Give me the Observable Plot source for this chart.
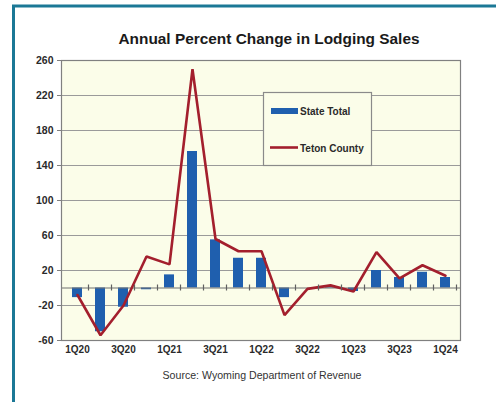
<!DOCTYPE html>
<html>
<head>
<meta charset="utf-8">
<script src="https://cdn.jsdelivr.net/npm/d3@7"></script>
<script src="https://cdn.jsdelivr.net/npm/@observablehq/plot@0.6"></script>
<style>
  html, body { margin: 0; padding: 0; background: #fff; }
  svg { display: block; }
</style>
</head>
<body>
<div id="chart"></div>
<script>
const quarters = ["1Q20","2Q20","3Q20","4Q20","1Q21","2Q21","3Q21","4Q21","1Q22","2Q22","3Q22","4Q22","1Q23","2Q23","3Q23","4Q23","1Q24"];
const stateTotal = [-11, -50, -22, -2, 15, 156, 55, 34, 34, -11, 0, 1, -4, 20, 12, 18, 12];
const tetonCounty = [-8, -54, -20, 36, 27, 250, 56, 42, 42, -31, -1, 3, -4, 41, 11, 26, 14];
const yTicks = [-60, -20, 20, 60, 100, 140, 180, 220, 260];
const xLabels = ["1Q20","3Q20","1Q21","3Q21","1Q22","3Q22","1Q23","3Q23","1Q24"];
const seriesNames = ["State Total", "Teton County"];
const titleText = "Annual Percent Change in Lodging Sales";
const sourceText = "Source: Wyoming Department of Revenue";

const barColor = "#1f5fae";
const lineColor = "#a31f2d";
const plotBg = "#fbfde9";
const font = "'Liberation Sans', Arial, sans-serif";

const rows = quarters.map((q, i) => ({q, state: stateTotal[i], teton: tetonCounty[i]}));

const plot = Plot.plot({
  width: 496,
  height: 402,
  marginLeft: 61,
  marginRight: 36,
  marginTop: 60,
  marginBottom: 62,
  style: {background: "#fff", fontFamily: font, overflow: "visible"},
  x: {domain: quarters, paddingInner: 0.58, paddingOuter: 0.29, label: null},
  y: {domain: [-60, 260], label: null},
  marks: [
    Plot.frame({fill: plotBg, stroke: "none"}),
    Plot.ruleY(yTicks, {stroke: "#9a9a9a", strokeWidth: 1}),
    Plot.barY(rows, {x: "q", y: "state", fill: barColor}),
    Plot.ruleY([0], {stroke: "#707070", strokeWidth: 1.2}),
    Plot.lineY(rows, {x: "q", y: "teton", stroke: lineColor, strokeWidth: 2.6, strokeLinejoin: "miter"}),
    Plot.frame({stroke: "#808080", strokeWidth: 1.2}),
    Plot.axisY({ticks: yTicks, tickSize: 4, tickPadding: 4, tickFormat: d => String(d),
      fontSize: 10.5, fontWeight: "bold", fill: "#2a2a2a", stroke: "#808080", label: null}),
    Plot.axisX({ticks: xLabels, tickSize: 0, tickPadding: 5,
      fontSize: 10, fontWeight: "bold", fill: "#2a2a2a", label: null})
  ]
});

const svg = d3.select(plot);
const xs = plot.scale("x");
const ys = plot.scale("y");
const y0 = ys.apply(0);
const gap = (xs.step - xs.bandwidth) / 2;

// tick marks on the zero line at category boundaries
const bounds = quarters.slice(1).map(q => xs.apply(q) - gap);
bounds.push(xs.apply(quarters[quarters.length - 1]) + xs.bandwidth + gap);
svg.append("g").selectAll("line").data(bounds).join("line")
  .attr("x1", d => d).attr("x2", d => d)
  .attr("y1", y0 - 3).attr("y2", y0 + 3)
  .attr("stroke", "#606060").attr("stroke-width", 1.2);

// legend
const lg = svg.append("g");
lg.append("rect").attr("x", 263.5).attr("y", 92.5).attr("width", 108).attr("height", 73)
  .attr("fill", plotBg).attr("stroke", "#8a8a8a").attr("stroke-width", 1.2);
lg.append("rect").attr("x", 271).attr("y", 108).attr("width", 27).attr("height", 6).attr("fill", barColor);
lg.append("line").attr("x1", 270).attr("x2", 298).attr("y1", 147.5).attr("y2", 147.5)
  .attr("stroke", lineColor).attr("stroke-width", 2.6);
lg.selectAll("text").data(seriesNames).join("text")
  .attr("x", 300).attr("y", (d, i) => i === 0 ? 111 : 148)
  .attr("dy", "0.35em").attr("text-anchor", "start")
  .attr("font-family", font).attr("font-size", 10).attr("font-weight", "bold")
  .attr("fill", "#2a2a2a").text(d => d);

// title & source
svg.append("text").attr("x", 269).attr("y", 43.5).attr("text-anchor", "middle")
  .attr("font-family", font).attr("font-size", 15.4).attr("font-weight", "bold")
  .attr("fill", "#1a1a1a").text(titleText);
svg.append("text").attr("x", 262).attr("y", 378.5).attr("text-anchor", "middle")
  .attr("font-family", font).attr("font-size", 10.6)
  .attr("fill", "#333").text(sourceText);

// teal page border (left and top)
svg.append("path").attr("d", "M13.5,402 V6 H496")
  .attr("fill", "none").attr("stroke", "#1b7896").attr("stroke-width", 3);

document.getElementById("chart").appendChild(plot);
</script>
</body>
</html>
